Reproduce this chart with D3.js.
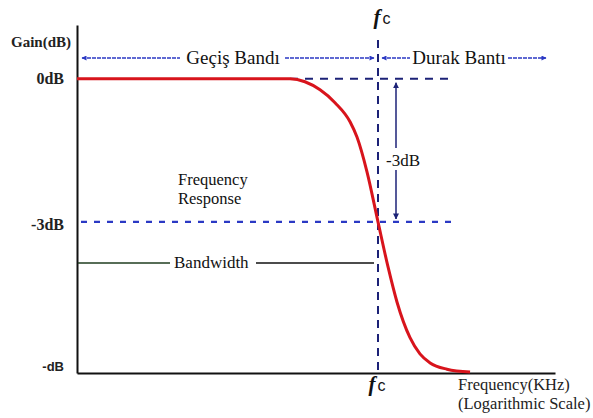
<!DOCTYPE html>
<html>
<head>
  <meta charset="utf-8">
  <title>Low-pass frequency response</title>
  <style type="text/css">
    body { margin: 0; background: #fff; }
  </style>
</head>
<body>
  <svg width="593" height="418"></svg>
  <script src="https://d3js.org/d3.v7.min.js"></script>
  <script>
    // 1. data (frequency in KHz, gain in dB)
    var freq = [0.1, 1, 2.6, 3.27, 4.12, 5.18, 6.52, 7.25, 8.45, 10, 11.65, 13.37, 16.32, 19.0, 22.2, 28.7, 40.9];
    var gain = [0, 0, 0, -0.06, -0.23, -0.50, -0.90, -1.22, -1.95, -3, -3.94, -4.68, -5.43, -5.77, -5.96, -6.09, -6.15];
    var yTickValues = [0, -3, -6];
    var yTickLabels = ["0dB", "-3dB", "-dB"];
    var fc = 10;
    var bandLabels = ["Geçiş Bandı", "Durak Bantı"];

    var serif = "'Liberation Serif', 'DejaVu Serif', serif";
    var sans = "'Liberation Sans', Arial, sans-serif";

    var svg = d3.select("svg");

    // 2. scales
    var x = d3.scaleLog().domain([0.1, 150]).range([77, 555]);
    var y = d3.scaleLinear().domain([-6.17, 1.13]).range([373, 25]);

    var navy = "#1c2277";
    var blue = "#2b39c4";

    // arrow markers
    var defs = svg.append("defs");
    function marker(id, color, w, h) {
      defs.append("marker")
        .attr("id", id)
        .attr("viewBox", "0 0 10 10")
        .attr("refX", 9).attr("refY", 5)
        .attr("markerWidth", w).attr("markerHeight", h)
        .attr("markerUnits", "userSpaceOnUse")
        .attr("orient", "auto-start-reverse")
        .append("path")
        .attr("d", "M0,0L10,5L0,10Z")
        .attr("fill", color);
    }
    marker("arrBlue", blue, 7, 5);
    marker("arrNavy", navy, 6, 8);

    function label(xp, yp, str, size) {
      return svg.append("text")
        .attr("x", xp).attr("y", yp)
        .attr("font-family", serif)
        .attr("font-size", size)
        .attr("fill", "#111")
        .text(str);
    }

    // 3. axes (no ticks, only labels)
    var yAxis = d3.axisLeft(y)
      .tickValues(yTickValues)
      .tickFormat(function (d, i) { return yTickLabels[i]; })
      .tickSize(0).tickSizeOuter(0).tickPadding(13);
    var gy = svg.append("g").attr("transform", "translate(" + x.range()[0] + ",0)").call(yAxis);
    gy.select(".domain").attr("stroke", "#111").attr("stroke-width", 2);
    gy.selectAll(".tick text")
      .attr("font-family", serif)
      .attr("font-size", 16)
      .attr("font-weight", "bold")
      .attr("fill", "#222")
      .attr("dy", function (d) { return d === 0 ? "0.32em" : d === -3 ? "0.5em" : "0.4em"; })
      .filter(function (d) { return d === -6; })
      .attr("font-family", sans)
      .attr("font-size", 13);

    var xAxis = d3.axisBottom(x).tickValues([]).tickSize(0).tickSizeOuter(0);
    var gx = svg.append("g").attr("transform", "translate(0," + y.range()[0] + ")").call(xAxis);
    gx.select(".domain").attr("stroke", "#111").attr("stroke-width", 2);

    label(11, 47, "Gain(dB)", 15).attr("font-weight", "bold").attr("fill", "#222");

    // 4. reference lines
    var xc = x(fc);
    // -3dB line
    svg.append("line")
      .attr("x1", x.range()[0] + 4).attr("x2", 452)
      .attr("y1", y(-3)).attr("y2", y(-3))
      .attr("stroke", blue).attr("stroke-width", 2.2)
      .attr("stroke-dasharray", "6,7");

    // 0dB dashed line (from the knee onward)
    svg.append("line")
      .attr("x1", 290).attr("x2", 452)
      .attr("y1", y(0)).attr("y2", y(0))
      .attr("stroke", navy).attr("stroke-width", 2)
      .attr("stroke-dasharray", "8,7");

    // fc vertical line
    svg.append("line")
      .attr("x1", xc).attr("x2", xc)
      .attr("y1", 40).attr("y2", y.range()[0] - 2)
      .attr("stroke", navy).attr("stroke-width", 2)
      .attr("stroke-dasharray", "8,6");

    // 5. response curve
    var line = d3.line()
      .x(function (d) { return x(d[0]); })
      .y(function (d) { return y(d[1]); })
      .curve(d3.curveMonotoneX);
    svg.append("path")
      .datum(d3.zip(freq, gain))
      .attr("fill", "none")
      .attr("stroke", "#d8141c")
      .attr("stroke-width", 3)
      .attr("d", line);

    // 6. band arrows at the top
    var yb = 58;
    function bandLine(x1, x2, startArrow, endArrow) {
      var l = svg.append("line")
        .attr("x1", x1).attr("x2", x2).attr("y1", yb).attr("y2", yb)
        .attr("stroke", blue).attr("stroke-width", 1.5)
        .attr("stroke-dasharray", "4,1");
      if (startArrow) l.attr("marker-start", "url(#arrBlue)");
      if (endArrow) l.attr("marker-end", "url(#arrBlue)");
    }
    bandLine(82, 180, true, false);
    bandLine(285, xc - 4, false, true);
    bandLine(xc + 4, 410, true, false);
    bandLine(508, 546, false, true);

    label(233, yb + 6, bandLabels[0], 19).attr("text-anchor", "middle");
    label(459, yb + 6, bandLabels[1], 19).attr("text-anchor", "middle");

    // fc labels
    function fcLabel(xp, yp) {
      var t = svg.append("text").attr("x", xp).attr("y", yp)
        .attr("text-anchor", "middle").attr("fill", "#111");
      t.append("tspan").attr("font-family", serif).attr("font-style", "italic")
        .attr("font-weight", "bold").attr("font-size", 21).text("f");
      t.append("tspan").attr("font-family", sans).attr("font-size", 16).attr("dx", 2).text("c");
    }
    fcLabel(xc + 4, 24);
    fcLabel(xc - 1, 391);

    // 7. -3dB arrow
    var xa = 396;
    svg.append("line")
      .attr("x1", xa).attr("x2", xa)
      .attr("y1", y(0) + 4).attr("y2", y(-3) - 3)
      .attr("stroke", navy).attr("stroke-width", 1.5)
      .attr("marker-start", "url(#arrNavy)")
      .attr("marker-end", "url(#arrNavy)");
    svg.append("rect")
      .attr("x", 384).attr("y", 148).attr("width", 38).attr("height", 22)
      .attr("fill", "#fff");
    label(403, 166, "-3dB", 17).attr("text-anchor", "middle");

    // 8. text annotations
    label(178, 185, "Frequency", 16.5);
    label(178, 204, "Response", 16.5);

    var yw = 263;
    svg.append("line")
      .attr("x1", x.range()[0] + 1).attr("x2", 170).attr("y1", yw).attr("y2", yw)
      .attr("stroke", "#1f3d1f").attr("stroke-width", 1.5);
    label(174, yw + 5, "Bandwidth", 17);
    svg.append("line")
      .attr("x1", 256).attr("x2", xc - 4).attr("y1", yw).attr("y2", yw)
      .attr("stroke", "#111").attr("stroke-width", 1.5);

    label(458, 390, "Frequency(KHz)", 16.5).attr("fill", "#222");
    label(458, 409, "(Logarithmic Scale)", 16.5).attr("fill", "#222");
  </script>
</body>
</html>
